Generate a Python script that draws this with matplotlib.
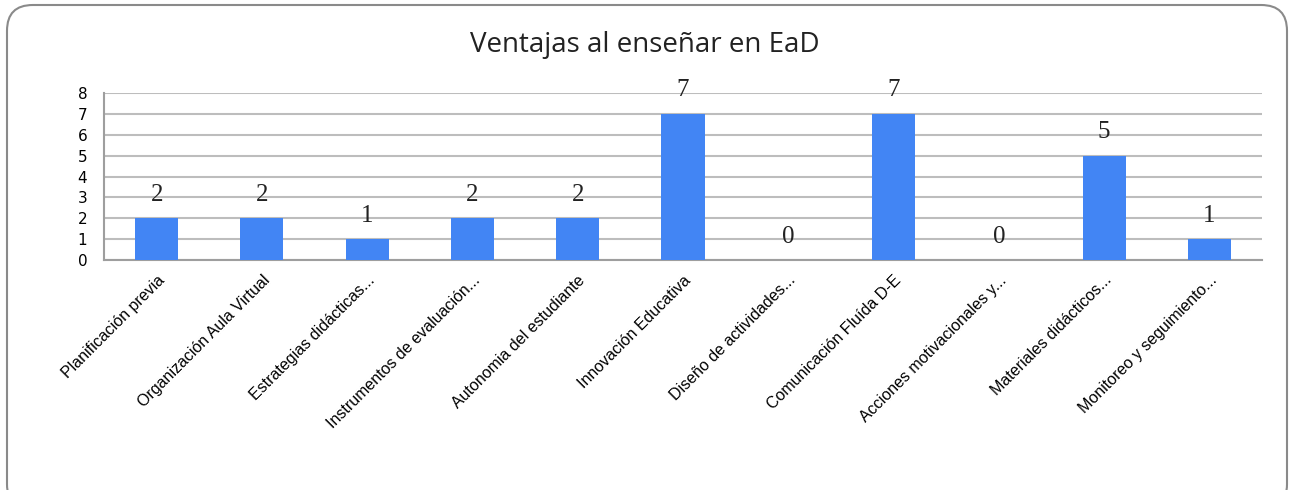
import matplotlib.pyplot as plt
import numpy as np
from matplotlib.patches import FancyBboxPatch

# Datos del grafico
categorias = ['Planificación previa', 'Organización Aula Virtual', 'Estrategias didácticas...',
              'Instrumentos de evaluación...', 'Autonomia del estudiante', 'Innovación Educativa',
              'Diseño de actividades...', 'Comunicación Fluída D-E', 'Acciones motivacionales y...',
              'Materiales didácticos...', 'Monitoreo y seguimiento...']
valores = [2, 2, 1, 2, 2, 7, 0, 7, 0, 5, 1]
y_ticks = [0, 1, 2, 3, 4, 5, 6, 7, 8]

fig = plt.figure(figsize=(12.9, 4.9), dpi=100)
ax = fig.add_axes([104 / 1290, 1 - 260 / 490, (1262 - 104) / 1290, (260 - 93) / 490])

x = np.arange(len(categorias))
ax.bar(x, valores, width=0.41, color='#4285F4', zorder=3)

# etiquetas de valores
for xi, v in zip(x, valores):
    ax.annotate(str(v), (xi, v), xytext=(0, 9), textcoords='offset points',
                ha='center', va='bottom', fontsize=18, family='Liberation Serif', color='#222222')

ax.set_xlim(-0.5, len(categorias) - 0.5)
ax.set_ylim(0, 8)
ax.set_yticks(y_ticks)
ax.yaxis.grid(True, color='#BDBDBD', linewidth=1.5, zorder=0)
ax.tick_params(axis='both', length=0)
ax.tick_params(axis='y', labelsize=11, pad=12)
ax.tick_params(axis='x', pad=9)
ax.set_xticks(x)
ax.set_xticklabels(categorias, rotation=45, ha='right', rotation_mode='anchor',
                   fontsize=11.5, family='Liberation Sans')

for s in ['top', 'right']:
    ax.spines[s].set_visible(False)
for s in ['left', 'bottom']:
    ax.spines[s].set_color('#9E9E9E')
    ax.spines[s].set_linewidth(1.5)

fig.text(0.5, 1 - 45 / 490, 'Ventajas al enseñar en EaD', ha='center', va='center',
         fontsize=20, family='Open Sans', color='#222222')

# borde redondeado
caja = FancyBboxPatch((7 / 1290, -20 / 490), 1280 / 1290, 505 / 490,
                      boxstyle='round,pad=0,rounding_size=0.02', transform=fig.transFigure,
                      facecolor='none', edgecolor='#8A8A8A', linewidth=1.5,
                      mutation_aspect=1290 / 490)
fig.patches.append(caja)

fig.savefig('out.png', dpi=100)
